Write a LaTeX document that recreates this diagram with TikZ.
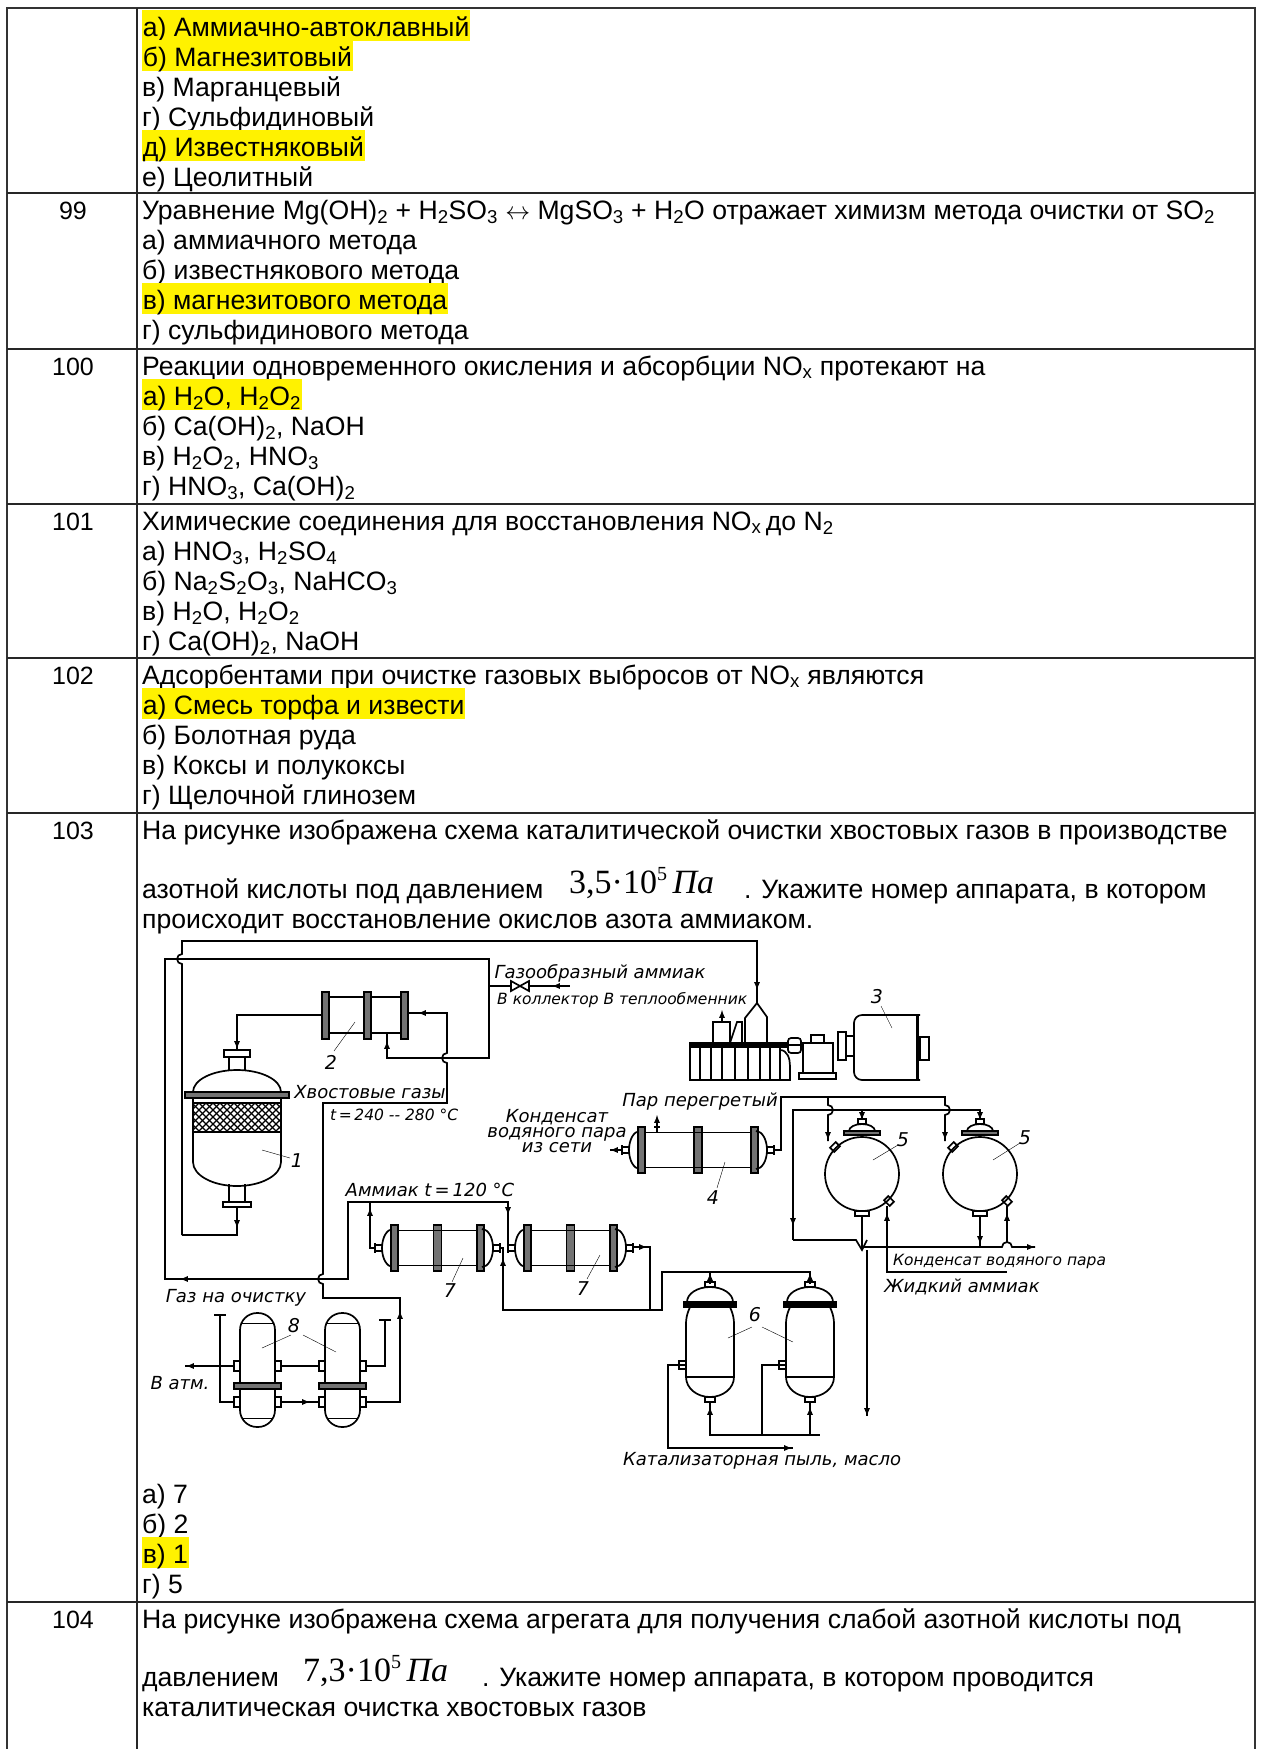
\documentclass[tikz,border=0pt]{standalone}
\usepackage{fontspec}
\setmainfont{Liberation Sans}
\newfontfamily\formfont{Liberation Serif}
\newfontfamily\gostfont{DejaVu Sans}
\usepackage{tikz}

\tikzset{
  txt/.style={anchor=base west, inner sep=0pt, font=\fontsize{26.6}{30}\selectfont},
  hl/.style={txt, fill=yellow, inner xsep=0.6pt, text height=26.5pt, text depth=4.7pt},
  num/.style={anchor=base, inner sep=0pt, font=\fontsize{25}{30}\selectfont},
  form/.style={anchor=base west, inner sep=0pt, font=\formfont\fontsize{34}{34}\selectfont},
  outer/.style={line width=1.8pt, black!80},
  inner/.style={line width=1.2pt, black!85},
  pipe/.style={line width=1.7pt},
  flange/.style={draw, line width=1.6pt, fill=black!55},
  lbl/.style={inner sep=0pt, font=\gostfont\itshape\fontsize{18}{19}\selectfont},
  small lbl/.style={lbl, font=\gostfont\itshape\fontsize{15.5}{17}\selectfont},
  digit/.style={inner sep=0pt, font=\gostfont\itshape\fontsize{19}{19}\selectfont},
}

% horizontal heat exchanger: left nozzle x, centre y, length
\newcommand{\hexch}[3]{%
  \begin{scope}[shift={(#1,#2)}]
    \draw[pipe] (0,-5) -- (0,5);
    \draw[pipe] (0,-3) -- (7,-3) (0,3) -- (7,3);
    \draw[pipe] (18,-19) arc[start angle=90, end angle=270, x radius=11pt, y radius=19pt];
    \draw[flange] (16,-23) rectangle (23,23);
    \draw[flange] (#3/2-4,-23) rectangle (#3/2+4,23);
    \draw[flange] (#3-23,-23) rectangle (#3-16,23);
    \draw[pipe] (23,-17.5) -- (#3-23,-17.5) (23,17.5) -- (#3-23,17.5);
    \draw[pipe] (#3-18,-19) arc[start angle=90, end angle=-90, x radius=11pt, y radius=19pt];
    \draw[pipe] (#3,-5) -- (#3,5);
    \draw[pipe] (#3-7,-3) -- (#3,-3) (#3-7,3) -- (#3,3);
  \end{scope}}

\begin{document}
\begin{tikzpicture}[x=1pt,y=-1pt,>=latex]
\useasboundingbox (0,0) rectangle (1261,1749);

% table
\draw[outer] (7,1749) -- (7,8) -- (1255,8) -- (1255,1749);
\draw[inner] (137,8) -- (137,1749);
\foreach \ry in {193,349,504,658,813,1602}
  \draw[inner] (7,\ry) -- (1255,\ry);

% row 98
\node[hl] (r98a) at (142,36) {а) Аммиачно-автоклавный};
\node[hl] (r98b) at (142,66) {б) Магнезитовый};
\node[txt] (r98c) at (142,96) {в) Марганцевый};
\node[txt] (r98d) at (142,126) {г) Сульфидиновый};
\node[hl] (r98e) at (142,156) {д) Известняковый};
\node[txt] (r98f) at (142,186) {е) Цеолитный};

% row 99
\node[num] (n99) at (73,219) {99};
\node[txt] (r99q) at (142,219) {Уравнение Mg(OH)\textsubscript{2} + H\textsubscript{2}SO\textsubscript{3} $\leftrightarrow$ MgSO\textsubscript{3} + H\textsubscript{2}O отражает химизм метода очистки от SO\textsubscript{2}};
\node[txt] (r99a) at (142,249) {а) аммиачного метода};
\node[txt] (r99b) at (142,279) {б) известнякового метода};
\node[hl] (r99c) at (142,309) {в) магнезитового метода};
\node[txt] (r99d) at (142,339) {г) сульфидинового метода};

% row 100
\node[num] (n100) at (73,375) {100};
\node[txt] (r100q) at (142,375) {Реакции одновременного окисления и абсорбции NO\textsubscript{x} протекают на};
\node[hl] (r100a) at (142,405) {а) H\textsubscript{2}O, H\textsubscript{2}O\textsubscript{2}};
\node[txt] (r100b) at (142,435) {б) Ca(OH)\textsubscript{2}, NaOH};
\node[txt] (r100c) at (142,465) {в) H\textsubscript{2}O\textsubscript{2}, HNO\textsubscript{3}};
\node[txt] (r100d) at (142,495) {г) HNO\textsubscript{3}, Ca(OH)\textsubscript{2}};

% row 101
\node[num] (n101) at (73,530) {101};
\node[txt] (r101q) at (142,530) {Химические соединения для восстановления NO\textsubscript{x}\,до N\textsubscript{2}};
\node[txt] (r101a) at (142,560) {а) HNO\textsubscript{3}, H\textsubscript{2}SO\textsubscript{4}};
\node[txt] (r101b) at (142,590) {б) Na\textsubscript{2}S\textsubscript{2}O\textsubscript{3}, NaHCO\textsubscript{3}};
\node[txt] (r101c) at (142,620) {в) H\textsubscript{2}O, H\textsubscript{2}O\textsubscript{2}};
\node[txt] (r101d) at (142,650) {г) Ca(OH)\textsubscript{2}, NaOH};

% row 102
\node[num] (n102) at (73,684) {102};
\node[txt] (r102q) at (142,684) {Адсорбентами при очистке газовых выбросов от NO\textsubscript{x} являются};
\node[hl] (r102a) at (142,714) {а) Смесь торфа и извести};
\node[txt] (r102b) at (142,744) {б) Болотная руда};
\node[txt] (r102c) at (142,774) {в) Коксы и полукоксы};
\node[txt] (r102d) at (142,804) {г) Щелочной глинозем};

% row 103
\node[num] (n103) at (73,839) {103};
\node[txt] (r103q) at (142,839) {На рисунке изображена схема каталитической очистки хвостовых газов в производстве};
\node[txt] (r103r) at (142,898) {азотной кислоты под давлением};
\node[form] (f103) at (569,893) {3,5·10\raisebox{13pt}{\fontsize{20}{20}\selectfont 5}\,\textit{Па}};
\node[txt] (r103s) at (744,898) {. Укажите номер аппарата, в котором};
\node[txt] (r103t) at (142,928) {происходит восстановление окислов азота аммиаком.};
\node[txt] (r103a) at (142,1503) {а) 7};
\node[txt] (r103b) at (142,1533) {б) 2};
\node[hl] (r103c) at (142,1563) {в) 1};
\node[txt] (r103d) at (142,1593) {г) 5};

% row 104
\node[num] (n104) at (73,1628) {104};
\node[txt] (r104q) at (142,1628) {На рисунке изображена схема агрегата для получения слабой азотной кислоты под};
\node[txt] (r104r) at (142,1686) {давлением};
\node[form] (f104) at (303,1681) {7,3·10\raisebox{13pt}{\fontsize{20}{20}\selectfont 5}\,\textit{Па}};
\node[txt] (r104s) at (482,1686) {. Укажите номер аппарата, в котором проводится};
\node[txt] (r104t) at (142,1716) {каталитическая очистка хвостовых газов};

% ---- scheme ----
% reactor 1
\draw[pipe] (224,1050) rectangle (250,1057);
\draw[pipe] (229,1057) -- (229,1071) (245,1057) -- (245,1071);
\draw[pipe] (193,1092) arc[start angle=180, end angle=0, x radius=44pt, y radius=22pt];
\draw[flange] (185,1092) rectangle (289,1098);
\begin{scope}
  \clip (193,1103) rectangle (281,1132);
  \foreach \k in {150,157,...,320}
    \draw[line width=1.1pt] (\k,1103) -- (\k+29,1132) (\k,1103) -- (\k-29,1132);
\end{scope}
\draw[pipe] (193,1103) -- (281,1103) (193,1132) -- (281,1132);
\draw[pipe] (193,1098) -- (193,1162) (281,1098) -- (281,1162);
\draw[pipe] (193,1162) arc[start angle=180, end angle=360, x radius=44pt, y radius=24pt];
\draw[pipe] (229,1184) -- (229,1202) (245,1184) -- (245,1202);
\draw[pipe] (223,1202) rectangle (251,1207);
\node[digit] (d1) at (297,1161) {1};
\draw (262,1150) -- (290,1158);

% heat exchanger 2
\draw[pipe] (328,997) -- (401,997) (328,1033) -- (401,1033);
\foreach \fx in {322,364,401}
  \draw[flange] (\fx,992) rectangle (\fx+7,1039);
\node[digit] (d2) at (331,1062) {2};
\draw (334,1051) -- (355,1022);

% heat exchangers 7 and 4
\hexch{375}{1248}{125}
\hexch{508}{1248}{125}
\hexch{622}{1150}{152}
\node[digit] (d7a) at (450,1291) {7};
\draw (452,1282) -- (463,1258);
\node[digit] (d7b) at (583,1289) {7};
\draw (587,1279) -- (600,1255);
\node[digit] (d4) at (713,1198) {4};
\draw (717,1188) -- (725,1162);
\draw[pipe] (654,1127) -- (660,1127) (657,1127) -- (657,1133);

% adsorbers 8
\foreach \ax in {240,325} {
  \draw[pipe, rounded corners=17pt] (\ax,1313) rectangle (\ax+35,1427);
  \draw (\ax+2,1323) -- (\ax+33,1323) (\ax+2,1418) -- (\ax+33,1418);
  \draw[flange] (\ax-6,1383) rectangle (\ax+41,1389);
  \foreach \ny in {1366,1402} {
    \draw[pipe] (\ax-6,\ny-5) rectangle (\ax,\ny+5);
    \draw[pipe] (\ax+35,\ny-5) rectangle (\ax+41,\ny+5);
  }
}
\node[digit] (d8) at (294,1326) {8};
\draw (291,1335) -- (262,1348) (303,1335) -- (336,1352);

% compressor group 3
\draw[pipe] (690,1047) rectangle (780,1080);
\foreach \vx in {700,711,722,735,748,760,770}
  \draw[line width=1.1pt] (\vx,1047) -- (\vx,1080);
\draw[pipe, fill=black] (690,1043) rectangle (786,1047);
\draw[pipe] (713,1022) rectangle (730,1043);
\draw[pipe] (730,1043) -- (737,1022) -- (742,1022) -- (742,1043);
\draw[pipe] (757,1003) -- (745,1018) -- (745,1043) (757,1003) -- (767,1017) -- (767,1043);
\draw[pipe] (780,1050) to[out=0, in=90] (790,1066) -- (790,1080) -- (776,1080);
\draw[pipe] (786,1045) -- (803,1045);
\draw[pipe, rounded corners=3pt] (788,1038) rectangle (801,1053);
\draw[pipe] (803,1043) rectangle (833,1073);
\draw[pipe] (811,1035) rectangle (824,1043);
\draw[pipe] (799,1073) rectangle (836,1079);
\draw[pipe] (838,1032) rectangle (846,1060) (846,1036) rectangle (854,1056);
\draw[pipe, rounded corners=8pt] (920,1080) -- (854,1080) -- (854,1015) -- (920,1015);
\draw[line width=3pt] (917,1015) -- (917,1080);
\draw[pipe] (920,1037) rectangle (929,1060);
\node[digit] (d3) at (877,997) {3};
\draw (881,1006) -- (892,1028);

% ammonia tanks 5
\foreach \tx in {862,980} {
  \draw[pipe] (\tx,1174) circle[radius=37pt];
  \draw[flange] (\tx-18,1131) rectangle (\tx+18,1135);
  \draw[pipe] (\tx-13,1131) arc[start angle=180, end angle=0, x radius=13pt, y radius=7pt];
  \draw[pipe] (\tx-4,1119) rectangle (\tx+4,1124);
  \draw[pipe] (\tx-7,1211) rectangle (\tx+7,1216);
  \draw[pipe, rotate around={45:(\tx-27,1147)}] (\tx-31,1144) rectangle (\tx-23,1150);
  \draw[pipe, rotate around={-45:(\tx+27,1201)}] (\tx+23,1198) rectangle (\tx+31,1204);
}
\node[digit] (d5a) at (903,1140) {5};
\draw (898,1145) -- (873,1160);
\node[digit] (d5b) at (1025,1138) {5};
\draw (1020,1143) -- (993,1160);

% evaporators 6
\foreach \vx in {710,810} {
  \draw[pipe] (\vx-5,1282) rectangle (\vx+5,1287);
  \draw[pipe] (\vx-23,1302) arc[start angle=180, end angle=0, x radius=23pt, y radius=15pt];
  \draw[pipe, fill=black] (\vx-26,1302) rectangle (\vx+26,1307);
  \draw[pipe, rounded corners=6pt] (\vx-24,1377) -- (\vx-24,1317) -- (\vx-20,1307);
  \draw[pipe, rounded corners=6pt] (\vx+24,1377) -- (\vx+24,1317) -- (\vx+20,1307);
  \draw[pipe] (\vx-24,1377) -- (\vx+24,1377);
  \draw[pipe] (\vx-24,1377) arc[start angle=180, end angle=360, x radius=24pt, y radius=20pt];
  \draw[pipe] (\vx-5,1397) rectangle (\vx+5,1402);
  \draw[pipe] (\vx-31,1361) rectangle (\vx-24,1369);
}
\node[digit] (d6) at (755,1315) {6};
\draw (752,1327) -- (728,1338) (762,1327) -- (793,1342);

% pipes
\draw[pipe] (182,1235) -- (182,964) arc[start angle=-90, end angle=-270, radius=5pt] -- (182,941) -- (757,941) -- (757,1003);
\draw[pipe] (387,1033) -- (387,1058) -- (489,1058) -- (489,959) -- (165,959) -- (165,1279) -- (348,1279) -- (348,1202) -- (508,1202) -- (508,1243);
\draw[pipe] (370,1202) -- (370,1248) -- (375,1248);
\draw[pipe] (365,1402) -- (400,1402) -- (400,1298) -- (323,1298) -- (323,1284)
  arc[start angle=-90, end angle=-270, radius=5pt] -- (323,1103) -- (447,1103) -- (447,1063)
  arc[start angle=-90, end angle=-270, radius=5pt] -- (447,1013) -- (408,1013);
\draw[pipe] (322,1015) -- (237,1015) -- (237,1050);
\draw[pipe] (237,1207) -- (237,1235) -- (182,1235);
\draw[pipe] (281,1366) -- (319,1366) (281,1402) -- (319,1402);
\draw[pipe] (185,1366) -- (234,1366);
\draw[pipe] (234,1402) -- (220,1402) -- (220,1315) (214,1315) -- (226,1315);
\draw[pipe] (366,1366) -- (385,1366) -- (385,1320) (379,1320) -- (391,1320);
\draw[pipe] (489,986) -- (511,986) (529,986) -- (570,986);
\draw[pipe] (511,981) -- (511,991) -- (520,986) -- cycle (529,981) -- (529,991) -- (520,986) -- cycle;
\draw[pipe] (500,1248) -- (503,1248) -- (503,1310) -- (662,1310) -- (662,1272) -- (810,1272) -- (810,1282);
\draw[pipe] (710,1272) -- (710,1282);
\draw[pipe] (633,1247) -- (650,1247) -- (650,1310);
\draw[pipe] (774,1150) -- (781,1150) -- (781,1097) -- (945,1097) -- (945,1105)
  arc[start angle=90, end angle=-90, radius=5pt] -- (945,1141);
\draw[pipe] (828,1097) -- (828,1105) arc[start angle=90, end angle=-90, radius=5pt] -- (828,1141);
\draw[pipe] (793,1240) -- (793,1110) -- (980,1110) -- (980,1119);
\draw[pipe] (862,1110) -- (862,1119);
\draw[pipe] (793,1240) -- (856,1240) -- (862,1250) -- (867,1240);
\draw[pipe] (862,1216) -- (862,1250);
\draw[pipe] (867,1250) -- (867,1416);
\draw[pipe] (862,1247) -- (1002,1247) arc[start angle=180, end angle=0, radius=5pt] -- (1035,1247);
\draw[pipe] (887,1206) -- (887,1272) -- (1007,1272);
\draw[pipe] (1007,1206) -- (1007,1243);
\draw[pipe] (980,1216) -- (980,1247);
\draw[pipe] (710,1402) -- (710,1435) -- (820,1435) (810,1402) -- (810,1435);
\draw[pipe] (686,1365) -- (668,1365) -- (668,1448) -- (793,1448);
\draw[pipe] (786,1365) -- (762,1365) -- (762,1435);
\draw[pipe] (622,1150) -- (610,1150);

% flow arrows
\foreach \ax/\ay/\bx/\by in {237/1038/237/1049, 237/1217/237/1228, 387/1052/387/1041,
  430/1013/418/1013, 192/1279/180/1279, 400/1322/400/1311, 197/1366/186/1366,
  298/1402/310/1402, 370/1220/370/1208, 508/1204/508/1215, 503/1270/503/1258,
  636/1247/647/1247, 710/1284/710/1273, 810/1284/810/1273, 710/1420/710/1407,
  810/1420/810/1407, 778/1448/792/1448, 620/1150/610/1150, 657/1126/657/1115,
  828/1129/828/1140, 945/1129/945/1140, 862/1110/862/1120, 980/1110/980/1120,
  793/1214/793/1226, 887/1226/887/1213, 1007/1226/1007/1213, 980/1232/980/1244,
  1022/1247/1035/1247, 722/1022/722/1010, 564/986/552/986, 757/978/757/990, 867/1404/867/1416}
  \draw[pipe, ->] (\ax,\ay) -- (\bx,\by);

% labels
\node[lbl] (lgaz) at (600,973) {Газообразный аммиак};
\node[small lbl, anchor=west] (lkol) at (497,1000) {В коллектор В теплообменник};
\node[lbl] (lhv) at (370,1092) {Хвостовые газы};
\node[small lbl, anchor=west] (ltt) at (330,1115) {t\,=\,240 -- 280 °C};
\node[lbl] (lpar) at (700,1102) {Пар перегретый};
\node[lbl, align=center] (lkond) at (557,1131) {Конденсат\\[-4pt]водяного пара\\[-4pt]из сети};
\node[lbl] (lamm) at (430,1190) {Аммиак t\,=\,120 °C};
\node[lbl] (lgo) at (236,1298) {Газ на очистку};
\node[lbl] (latm) at (180,1383) {В атм.};
\node[small lbl, anchor=west] (lkvp) at (893,1261) {Конденсат водяного пара};
\node[lbl] (ljam) at (962,1287) {Жидкий аммиак};
\node[lbl] (lkat) at (762,1461) {Катализаторная пыль, масло};

\end{tikzpicture}
\end{document}
